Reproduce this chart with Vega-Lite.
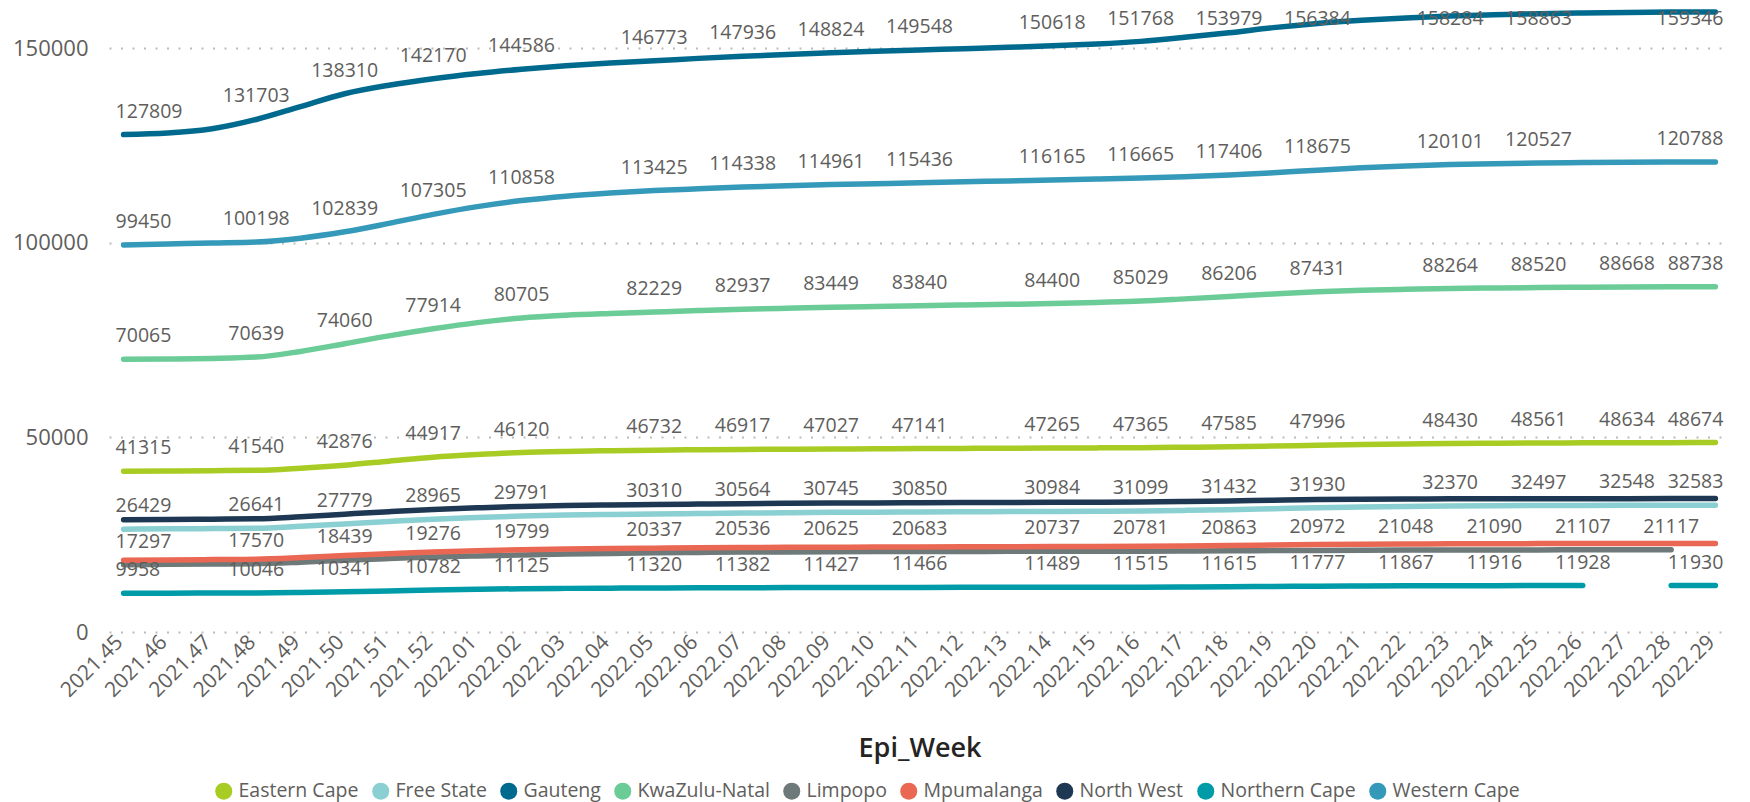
{
  "$schema": "https://vega.github.io/schema/vega-lite/v6.json",
  "width": 1621,
  "height": 632,
  "autosize": {"type": "none"},
  "padding": {"left": 109, "top": 0, "right": 20, "bottom": 170},
  "background": "white",
  "config": {
    "font": "Open Sans",
    "view": {"stroke": null},
    "axis": {"labelFont": "Open Sans", "titleFont": "Open Sans"}
  },
  "data": {"values": [
    {"Province":"Eastern Cape","Epi_Week":"2021.45","Cases":41315},{"Province":"Eastern Cape","Epi_Week":"2021.46","Cases":41380},{"Province":"Eastern Cape","Epi_Week":"2021.47","Cases":41450},{"Province":"Eastern Cape","Epi_Week":"2021.48","Cases":41540},{"Province":"Eastern Cape","Epi_Week":"2021.49","Cases":42100},{"Province":"Eastern Cape","Epi_Week":"2021.50","Cases":42876},{"Province":"Eastern Cape","Epi_Week":"2021.51","Cases":43900},{"Province":"Eastern Cape","Epi_Week":"2021.52","Cases":44917},{"Province":"Eastern Cape","Epi_Week":"2022.01","Cases":45600},{"Province":"Eastern Cape","Epi_Week":"2022.02","Cases":46120},{"Province":"Eastern Cape","Epi_Week":"2022.03","Cases":46400},{"Province":"Eastern Cape","Epi_Week":"2022.04","Cases":46580},{"Province":"Eastern Cape","Epi_Week":"2022.05","Cases":46732},{"Province":"Eastern Cape","Epi_Week":"2022.06","Cases":46830},{"Province":"Eastern Cape","Epi_Week":"2022.07","Cases":46917},{"Province":"Eastern Cape","Epi_Week":"2022.08","Cases":46970},{"Province":"Eastern Cape","Epi_Week":"2022.09","Cases":47027},{"Province":"Eastern Cape","Epi_Week":"2022.10","Cases":47090},{"Province":"Eastern Cape","Epi_Week":"2022.11","Cases":47141},{"Province":"Eastern Cape","Epi_Week":"2022.12","Cases":47180},{"Province":"Eastern Cape","Epi_Week":"2022.13","Cases":47220},{"Province":"Eastern Cape","Epi_Week":"2022.14","Cases":47265},{"Province":"Eastern Cape","Epi_Week":"2022.15","Cases":47310},{"Province":"Eastern Cape","Epi_Week":"2022.16","Cases":47365},{"Province":"Eastern Cape","Epi_Week":"2022.17","Cases":47470},{"Province":"Eastern Cape","Epi_Week":"2022.18","Cases":47585},{"Province":"Eastern Cape","Epi_Week":"2022.19","Cases":47780},{"Province":"Eastern Cape","Epi_Week":"2022.20","Cases":47996},{"Province":"Eastern Cape","Epi_Week":"2022.21","Cases":48180},{"Province":"Eastern Cape","Epi_Week":"2022.22","Cases":48320},{"Province":"Eastern Cape","Epi_Week":"2022.23","Cases":48430},{"Province":"Eastern Cape","Epi_Week":"2022.24","Cases":48500},{"Province":"Eastern Cape","Epi_Week":"2022.25","Cases":48561},{"Province":"Eastern Cape","Epi_Week":"2022.26","Cases":48600},{"Province":"Eastern Cape","Epi_Week":"2022.27","Cases":48634},{"Province":"Eastern Cape","Epi_Week":"2022.28","Cases":48655},{"Province":"Eastern Cape","Epi_Week":"2022.29","Cases":48674},
    {"Province":"Free State","Epi_Week":"2021.45","Cases":26429},{"Province":"Free State","Epi_Week":"2021.46","Cases":26500},{"Province":"Free State","Epi_Week":"2021.47","Cases":26570},{"Province":"Free State","Epi_Week":"2021.48","Cases":26641},{"Province":"Free State","Epi_Week":"2021.49","Cases":27150},{"Province":"Free State","Epi_Week":"2021.50","Cases":27779},{"Province":"Free State","Epi_Week":"2021.51","Cases":28400},{"Province":"Free State","Epi_Week":"2021.52","Cases":28965},{"Province":"Free State","Epi_Week":"2022.01","Cases":29400},{"Province":"Free State","Epi_Week":"2022.02","Cases":29791},{"Province":"Free State","Epi_Week":"2022.03","Cases":30050},{"Province":"Free State","Epi_Week":"2022.04","Cases":30200},{"Province":"Free State","Epi_Week":"2022.05","Cases":30310},{"Province":"Free State","Epi_Week":"2022.06","Cases":30440},{"Province":"Free State","Epi_Week":"2022.07","Cases":30564},{"Province":"Free State","Epi_Week":"2022.08","Cases":30660},{"Province":"Free State","Epi_Week":"2022.09","Cases":30745},{"Province":"Free State","Epi_Week":"2022.10","Cases":30800},{"Province":"Free State","Epi_Week":"2022.11","Cases":30850},{"Province":"Free State","Epi_Week":"2022.12","Cases":30890},{"Province":"Free State","Epi_Week":"2022.13","Cases":30940},{"Province":"Free State","Epi_Week":"2022.14","Cases":30984},{"Province":"Free State","Epi_Week":"2022.15","Cases":31040},{"Province":"Free State","Epi_Week":"2022.16","Cases":31099},{"Province":"Free State","Epi_Week":"2022.17","Cases":31250},{"Province":"Free State","Epi_Week":"2022.18","Cases":31432},{"Province":"Free State","Epi_Week":"2022.19","Cases":31680},{"Province":"Free State","Epi_Week":"2022.20","Cases":31930},{"Province":"Free State","Epi_Week":"2022.21","Cases":32130},{"Province":"Free State","Epi_Week":"2022.22","Cases":32270},{"Province":"Free State","Epi_Week":"2022.23","Cases":32370},{"Province":"Free State","Epi_Week":"2022.24","Cases":32440},{"Province":"Free State","Epi_Week":"2022.25","Cases":32497},{"Province":"Free State","Epi_Week":"2022.26","Cases":32525},{"Province":"Free State","Epi_Week":"2022.27","Cases":32548},{"Province":"Free State","Epi_Week":"2022.28","Cases":32565},{"Province":"Free State","Epi_Week":"2022.29","Cases":32583},
    {"Province":"Gauteng","Epi_Week":"2021.45","Cases":127809},{"Province":"Gauteng","Epi_Week":"2021.46","Cases":128200},{"Province":"Gauteng","Epi_Week":"2021.47","Cases":129300},{"Province":"Gauteng","Epi_Week":"2021.48","Cases":131703},{"Province":"Gauteng","Epi_Week":"2021.49","Cases":135000},{"Province":"Gauteng","Epi_Week":"2021.50","Cases":138310},{"Province":"Gauteng","Epi_Week":"2021.51","Cases":140500},{"Province":"Gauteng","Epi_Week":"2021.52","Cases":142170},{"Province":"Gauteng","Epi_Week":"2022.01","Cases":143500},{"Province":"Gauteng","Epi_Week":"2022.02","Cases":144586},{"Province":"Gauteng","Epi_Week":"2022.03","Cases":145500},{"Province":"Gauteng","Epi_Week":"2022.04","Cases":146200},{"Province":"Gauteng","Epi_Week":"2022.05","Cases":146773},{"Province":"Gauteng","Epi_Week":"2022.06","Cases":147400},{"Province":"Gauteng","Epi_Week":"2022.07","Cases":147936},{"Province":"Gauteng","Epi_Week":"2022.08","Cases":148400},{"Province":"Gauteng","Epi_Week":"2022.09","Cases":148824},{"Province":"Gauteng","Epi_Week":"2022.10","Cases":149200},{"Province":"Gauteng","Epi_Week":"2022.11","Cases":149548},{"Province":"Gauteng","Epi_Week":"2022.12","Cases":149900},{"Province":"Gauteng","Epi_Week":"2022.13","Cases":150250},{"Province":"Gauteng","Epi_Week":"2022.14","Cases":150618},{"Province":"Gauteng","Epi_Week":"2022.15","Cases":151100},{"Province":"Gauteng","Epi_Week":"2022.16","Cases":151768},{"Province":"Gauteng","Epi_Week":"2022.17","Cases":152800},{"Province":"Gauteng","Epi_Week":"2022.18","Cases":153979},{"Province":"Gauteng","Epi_Week":"2022.19","Cases":155300},{"Province":"Gauteng","Epi_Week":"2022.20","Cases":156384},{"Province":"Gauteng","Epi_Week":"2022.21","Cases":157200},{"Province":"Gauteng","Epi_Week":"2022.22","Cases":157800},{"Province":"Gauteng","Epi_Week":"2022.23","Cases":158284},{"Province":"Gauteng","Epi_Week":"2022.24","Cases":158600},{"Province":"Gauteng","Epi_Week":"2022.25","Cases":158863},{"Province":"Gauteng","Epi_Week":"2022.26","Cases":159050},{"Province":"Gauteng","Epi_Week":"2022.27","Cases":159200},{"Province":"Gauteng","Epi_Week":"2022.28","Cases":159290},{"Province":"Gauteng","Epi_Week":"2022.29","Cases":159346},
    {"Province":"KwaZulu-Natal","Epi_Week":"2021.45","Cases":70065},{"Province":"KwaZulu-Natal","Epi_Week":"2021.46","Cases":70150},{"Province":"KwaZulu-Natal","Epi_Week":"2021.47","Cases":70300},{"Province":"KwaZulu-Natal","Epi_Week":"2021.48","Cases":70639},{"Province":"KwaZulu-Natal","Epi_Week":"2021.49","Cases":72100},{"Province":"KwaZulu-Natal","Epi_Week":"2021.50","Cases":74060},{"Province":"KwaZulu-Natal","Epi_Week":"2021.51","Cases":76100},{"Province":"KwaZulu-Natal","Epi_Week":"2021.52","Cases":77914},{"Province":"KwaZulu-Natal","Epi_Week":"2022.01","Cases":79500},{"Province":"KwaZulu-Natal","Epi_Week":"2022.02","Cases":80705},{"Province":"KwaZulu-Natal","Epi_Week":"2022.03","Cases":81400},{"Province":"KwaZulu-Natal","Epi_Week":"2022.04","Cases":81850},{"Province":"KwaZulu-Natal","Epi_Week":"2022.05","Cases":82229},{"Province":"KwaZulu-Natal","Epi_Week":"2022.06","Cases":82600},{"Province":"KwaZulu-Natal","Epi_Week":"2022.07","Cases":82937},{"Province":"KwaZulu-Natal","Epi_Week":"2022.08","Cases":83200},{"Province":"KwaZulu-Natal","Epi_Week":"2022.09","Cases":83449},{"Province":"KwaZulu-Natal","Epi_Week":"2022.10","Cases":83650},{"Province":"KwaZulu-Natal","Epi_Week":"2022.11","Cases":83840},{"Province":"KwaZulu-Natal","Epi_Week":"2022.12","Cases":84020},{"Province":"KwaZulu-Natal","Epi_Week":"2022.13","Cases":84200},{"Province":"KwaZulu-Natal","Epi_Week":"2022.14","Cases":84400},{"Province":"KwaZulu-Natal","Epi_Week":"2022.15","Cases":84700},{"Province":"KwaZulu-Natal","Epi_Week":"2022.16","Cases":85029},{"Province":"KwaZulu-Natal","Epi_Week":"2022.17","Cases":85600},{"Province":"KwaZulu-Natal","Epi_Week":"2022.18","Cases":86206},{"Province":"KwaZulu-Natal","Epi_Week":"2022.19","Cases":86850},{"Province":"KwaZulu-Natal","Epi_Week":"2022.20","Cases":87431},{"Province":"KwaZulu-Natal","Epi_Week":"2022.21","Cases":87800},{"Province":"KwaZulu-Natal","Epi_Week":"2022.22","Cases":88050},{"Province":"KwaZulu-Natal","Epi_Week":"2022.23","Cases":88264},{"Province":"KwaZulu-Natal","Epi_Week":"2022.24","Cases":88400},{"Province":"KwaZulu-Natal","Epi_Week":"2022.25","Cases":88520},{"Province":"KwaZulu-Natal","Epi_Week":"2022.26","Cases":88600},{"Province":"KwaZulu-Natal","Epi_Week":"2022.27","Cases":88668},{"Province":"KwaZulu-Natal","Epi_Week":"2022.28","Cases":88710},{"Province":"KwaZulu-Natal","Epi_Week":"2022.29","Cases":88738},
    {"Province":"Limpopo","Epi_Week":"2021.45","Cases":17297},{"Province":"Limpopo","Epi_Week":"2021.46","Cases":17380},{"Province":"Limpopo","Epi_Week":"2021.47","Cases":17470},{"Province":"Limpopo","Epi_Week":"2021.48","Cases":17570},{"Province":"Limpopo","Epi_Week":"2021.49","Cases":17950},{"Province":"Limpopo","Epi_Week":"2021.50","Cases":18439},{"Province":"Limpopo","Epi_Week":"2021.51","Cases":18870},{"Province":"Limpopo","Epi_Week":"2021.52","Cases":19276},{"Province":"Limpopo","Epi_Week":"2022.01","Cases":19560},{"Province":"Limpopo","Epi_Week":"2022.02","Cases":19799},{"Province":"Limpopo","Epi_Week":"2022.03","Cases":20020},{"Province":"Limpopo","Epi_Week":"2022.04","Cases":20200},{"Province":"Limpopo","Epi_Week":"2022.05","Cases":20337},{"Province":"Limpopo","Epi_Week":"2022.06","Cases":20440},{"Province":"Limpopo","Epi_Week":"2022.07","Cases":20536},{"Province":"Limpopo","Epi_Week":"2022.08","Cases":20585},{"Province":"Limpopo","Epi_Week":"2022.09","Cases":20625},{"Province":"Limpopo","Epi_Week":"2022.10","Cases":20655},{"Province":"Limpopo","Epi_Week":"2022.11","Cases":20683},{"Province":"Limpopo","Epi_Week":"2022.12","Cases":20700},{"Province":"Limpopo","Epi_Week":"2022.13","Cases":20720},{"Province":"Limpopo","Epi_Week":"2022.14","Cases":20737},{"Province":"Limpopo","Epi_Week":"2022.15","Cases":20760},{"Province":"Limpopo","Epi_Week":"2022.16","Cases":20781},{"Province":"Limpopo","Epi_Week":"2022.17","Cases":20820},{"Province":"Limpopo","Epi_Week":"2022.18","Cases":20863},{"Province":"Limpopo","Epi_Week":"2022.19","Cases":20920},{"Province":"Limpopo","Epi_Week":"2022.20","Cases":20972},{"Province":"Limpopo","Epi_Week":"2022.21","Cases":21015},{"Province":"Limpopo","Epi_Week":"2022.22","Cases":21048},{"Province":"Limpopo","Epi_Week":"2022.23","Cases":21070},{"Province":"Limpopo","Epi_Week":"2022.24","Cases":21090},{"Province":"Limpopo","Epi_Week":"2022.25","Cases":21100},{"Province":"Limpopo","Epi_Week":"2022.26","Cases":21107},{"Province":"Limpopo","Epi_Week":"2022.27","Cases":21112},{"Province":"Limpopo","Epi_Week":"2022.28","Cases":21117},
    {"Province":"Mpumalanga","Epi_Week":"2021.45","Cases":18430},{"Province":"Mpumalanga","Epi_Week":"2021.46","Cases":18500},{"Province":"Mpumalanga","Epi_Week":"2021.47","Cases":18600},{"Province":"Mpumalanga","Epi_Week":"2021.48","Cases":18710},{"Province":"Mpumalanga","Epi_Week":"2021.49","Cases":19130},{"Province":"Mpumalanga","Epi_Week":"2021.50","Cases":19660},{"Province":"Mpumalanga","Epi_Week":"2021.51","Cases":20130},{"Province":"Mpumalanga","Epi_Week":"2021.52","Cases":20560},{"Province":"Mpumalanga","Epi_Week":"2022.01","Cases":20880},{"Province":"Mpumalanga","Epi_Week":"2022.02","Cases":21120},{"Province":"Mpumalanga","Epi_Week":"2022.03","Cases":21300},{"Province":"Mpumalanga","Epi_Week":"2022.04","Cases":21440},{"Province":"Mpumalanga","Epi_Week":"2022.05","Cases":21540},{"Province":"Mpumalanga","Epi_Week":"2022.06","Cases":21630},{"Province":"Mpumalanga","Epi_Week":"2022.07","Cases":21700},{"Province":"Mpumalanga","Epi_Week":"2022.08","Cases":21750},{"Province":"Mpumalanga","Epi_Week":"2022.09","Cases":21790},{"Province":"Mpumalanga","Epi_Week":"2022.10","Cases":21830},{"Province":"Mpumalanga","Epi_Week":"2022.11","Cases":21860},{"Province":"Mpumalanga","Epi_Week":"2022.12","Cases":21890},{"Province":"Mpumalanga","Epi_Week":"2022.13","Cases":21920},{"Province":"Mpumalanga","Epi_Week":"2022.14","Cases":21950},{"Province":"Mpumalanga","Epi_Week":"2022.15","Cases":21990},{"Province":"Mpumalanga","Epi_Week":"2022.16","Cases":22040},{"Province":"Mpumalanga","Epi_Week":"2022.17","Cases":22120},{"Province":"Mpumalanga","Epi_Week":"2022.18","Cases":22220},{"Province":"Mpumalanga","Epi_Week":"2022.19","Cases":22340},{"Province":"Mpumalanga","Epi_Week":"2022.20","Cases":22460},{"Province":"Mpumalanga","Epi_Week":"2022.21","Cases":22550},{"Province":"Mpumalanga","Epi_Week":"2022.22","Cases":22610},{"Province":"Mpumalanga","Epi_Week":"2022.23","Cases":22660},{"Province":"Mpumalanga","Epi_Week":"2022.24","Cases":22690},{"Province":"Mpumalanga","Epi_Week":"2022.25","Cases":22710},{"Province":"Mpumalanga","Epi_Week":"2022.26","Cases":22725},{"Province":"Mpumalanga","Epi_Week":"2022.27","Cases":22735},{"Province":"Mpumalanga","Epi_Week":"2022.28","Cases":22742},{"Province":"Mpumalanga","Epi_Week":"2022.29","Cases":22748},
    {"Province":"North West","Epi_Week":"2021.45","Cases":28850},{"Province":"North West","Epi_Week":"2021.46","Cases":28920},{"Province":"North West","Epi_Week":"2021.47","Cases":29000},{"Province":"North West","Epi_Week":"2021.48","Cases":29080},{"Province":"North West","Epi_Week":"2021.49","Cases":29620},{"Province":"North West","Epi_Week":"2021.50","Cases":30280},{"Province":"North West","Epi_Week":"2021.51","Cases":30920},{"Province":"North West","Epi_Week":"2021.52","Cases":31480},{"Province":"North West","Epi_Week":"2022.01","Cases":31900},{"Province":"North West","Epi_Week":"2022.02","Cases":32270},{"Province":"North West","Epi_Week":"2022.03","Cases":32520},{"Province":"North West","Epi_Week":"2022.04","Cases":32660},{"Province":"North West","Epi_Week":"2022.05","Cases":32760},{"Province":"North West","Epi_Week":"2022.06","Cases":32870},{"Province":"North West","Epi_Week":"2022.07","Cases":32980},{"Province":"North West","Epi_Week":"2022.08","Cases":33060},{"Province":"North West","Epi_Week":"2022.09","Cases":33130},{"Province":"North West","Epi_Week":"2022.10","Cases":33180},{"Province":"North West","Epi_Week":"2022.11","Cases":33220},{"Province":"North West","Epi_Week":"2022.12","Cases":33250},{"Province":"North West","Epi_Week":"2022.13","Cases":33290},{"Province":"North West","Epi_Week":"2022.14","Cases":33320},{"Province":"North West","Epi_Week":"2022.15","Cases":33360},{"Province":"North West","Epi_Week":"2022.16","Cases":33410},{"Province":"North West","Epi_Week":"2022.17","Cases":33530},{"Province":"North West","Epi_Week":"2022.18","Cases":33680},{"Province":"North West","Epi_Week":"2022.19","Cases":33860},{"Province":"North West","Epi_Week":"2022.20","Cases":34020},{"Province":"North West","Epi_Week":"2022.21","Cases":34110},{"Province":"North West","Epi_Week":"2022.22","Cases":34170},{"Province":"North West","Epi_Week":"2022.23","Cases":34210},{"Province":"North West","Epi_Week":"2022.24","Cases":34235},{"Province":"North West","Epi_Week":"2022.25","Cases":34250},{"Province":"North West","Epi_Week":"2022.26","Cases":34260},{"Province":"North West","Epi_Week":"2022.27","Cases":34268},{"Province":"North West","Epi_Week":"2022.28","Cases":34274},{"Province":"North West","Epi_Week":"2022.29","Cases":34280},
    {"Province":"Northern Cape","Epi_Week":"2021.45","Cases":9958},{"Province":"Northern Cape","Epi_Week":"2021.46","Cases":9985},{"Province":"Northern Cape","Epi_Week":"2021.47","Cases":10015},{"Province":"Northern Cape","Epi_Week":"2021.48","Cases":10046},{"Province":"Northern Cape","Epi_Week":"2021.49","Cases":10170},{"Province":"Northern Cape","Epi_Week":"2021.50","Cases":10341},{"Province":"Northern Cape","Epi_Week":"2021.51","Cases":10560},{"Province":"Northern Cape","Epi_Week":"2021.52","Cases":10782},{"Province":"Northern Cape","Epi_Week":"2022.01","Cases":10970},{"Province":"Northern Cape","Epi_Week":"2022.02","Cases":11125},{"Province":"Northern Cape","Epi_Week":"2022.03","Cases":11210},{"Province":"Northern Cape","Epi_Week":"2022.04","Cases":11270},{"Province":"Northern Cape","Epi_Week":"2022.05","Cases":11320},{"Province":"Northern Cape","Epi_Week":"2022.06","Cases":11350},{"Province":"Northern Cape","Epi_Week":"2022.07","Cases":11382},{"Province":"Northern Cape","Epi_Week":"2022.08","Cases":11405},{"Province":"Northern Cape","Epi_Week":"2022.09","Cases":11427},{"Province":"Northern Cape","Epi_Week":"2022.10","Cases":11447},{"Province":"Northern Cape","Epi_Week":"2022.11","Cases":11466},{"Province":"Northern Cape","Epi_Week":"2022.12","Cases":11474},{"Province":"Northern Cape","Epi_Week":"2022.13","Cases":11481},{"Province":"Northern Cape","Epi_Week":"2022.14","Cases":11489},{"Province":"Northern Cape","Epi_Week":"2022.15","Cases":11500},{"Province":"Northern Cape","Epi_Week":"2022.16","Cases":11515},{"Province":"Northern Cape","Epi_Week":"2022.17","Cases":11560},{"Province":"Northern Cape","Epi_Week":"2022.18","Cases":11615},{"Province":"Northern Cape","Epi_Week":"2022.19","Cases":11700},{"Province":"Northern Cape","Epi_Week":"2022.20","Cases":11777},{"Province":"Northern Cape","Epi_Week":"2022.21","Cases":11825},{"Province":"Northern Cape","Epi_Week":"2022.22","Cases":11867},{"Province":"Northern Cape","Epi_Week":"2022.23","Cases":11895},{"Province":"Northern Cape","Epi_Week":"2022.24","Cases":11916},{"Province":"Northern Cape","Epi_Week":"2022.25","Cases":11923},{"Province":"Northern Cape","Epi_Week":"2022.26","Cases":11928},{"Province":"Northern Cape","Epi_Week":"2022.27","Cases":null},{"Province":"Northern Cape","Epi_Week":"2022.28","Cases":11929},{"Province":"Northern Cape","Epi_Week":"2022.29","Cases":11930},
    {"Province":"Western Cape","Epi_Week":"2021.45","Cases":99450},{"Province":"Western Cape","Epi_Week":"2021.46","Cases":99700},{"Province":"Western Cape","Epi_Week":"2021.47","Cases":99950},{"Province":"Western Cape","Epi_Week":"2021.48","Cases":100198},{"Province":"Western Cape","Epi_Week":"2021.49","Cases":101200},{"Province":"Western Cape","Epi_Week":"2021.50","Cases":102839},{"Province":"Western Cape","Epi_Week":"2021.51","Cases":105000},{"Province":"Western Cape","Epi_Week":"2021.52","Cases":107305},{"Province":"Western Cape","Epi_Week":"2022.01","Cases":109300},{"Province":"Western Cape","Epi_Week":"2022.02","Cases":110858},{"Province":"Western Cape","Epi_Week":"2022.03","Cases":112000},{"Province":"Western Cape","Epi_Week":"2022.04","Cases":112800},{"Province":"Western Cape","Epi_Week":"2022.05","Cases":113425},{"Province":"Western Cape","Epi_Week":"2022.06","Cases":113900},{"Province":"Western Cape","Epi_Week":"2022.07","Cases":114338},{"Province":"Western Cape","Epi_Week":"2022.08","Cases":114680},{"Province":"Western Cape","Epi_Week":"2022.09","Cases":114961},{"Province":"Western Cape","Epi_Week":"2022.10","Cases":115200},{"Province":"Western Cape","Epi_Week":"2022.11","Cases":115436},{"Province":"Western Cape","Epi_Week":"2022.12","Cases":115680},{"Province":"Western Cape","Epi_Week":"2022.13","Cases":115920},{"Province":"Western Cape","Epi_Week":"2022.14","Cases":116165},{"Province":"Western Cape","Epi_Week":"2022.15","Cases":116400},{"Province":"Western Cape","Epi_Week":"2022.16","Cases":116665},{"Province":"Western Cape","Epi_Week":"2022.17","Cases":117000},{"Province":"Western Cape","Epi_Week":"2022.18","Cases":117406},{"Province":"Western Cape","Epi_Week":"2022.19","Cases":118000},{"Province":"Western Cape","Epi_Week":"2022.20","Cases":118675},{"Province":"Western Cape","Epi_Week":"2022.21","Cases":119300},{"Province":"Western Cape","Epi_Week":"2022.22","Cases":119750},{"Province":"Western Cape","Epi_Week":"2022.23","Cases":120101},{"Province":"Western Cape","Epi_Week":"2022.24","Cases":120350},{"Province":"Western Cape","Epi_Week":"2022.25","Cases":120527},{"Province":"Western Cape","Epi_Week":"2022.26","Cases":120620},{"Province":"Western Cape","Epi_Week":"2022.27","Cases":120700},{"Province":"Western Cape","Epi_Week":"2022.28","Cases":120750},{"Province":"Western Cape","Epi_Week":"2022.29","Cases":120788}
  ]},
  "encoding": {
    "x": {
      "field": "Epi_Week", "type": "ordinal", "sort": null,
      "scale": {"type": "point", "padding": 0.33},
      "axis": {
        "title": "Epi_Week", "labelAngle": -45, "labelFontSize": 21, "labelColor": "#605E5C",
        "ticks": false, "tickSize": 0, "domain": false, "grid": false, "labelPadding": -1, "labelOffset": -12,
        "titleFontSize": 27, "titleFontWeight": 600, "titleColor": "#252423", "titlePadding": 35
      }
    }
  },
  "layer": [
    {
      "mark": {"type": "line", "interpolate": "monotone", "strokeWidth": 5.5, "strokeCap": "round", "strokeJoin": "round", "invalid": "break-paths-show-domains"},
      "encoding": {
        "y": {
          "field": "Cases", "type": "quantitative",
          "scale": {"domain": [0, 162400], "nice": false, "zero": true},
          "axis": {"values": [0, 50000, 100000, 150000], "format": "d", "title": null, "domain": false, "ticks": false, "tickSize": 0,
            "labelFontSize": 22, "labelColor": "#605E5C", "labelPadding": 21,
            "gridColor": "#BDBBB9", "gridDash": [2, 9.5], "gridWidth": 2}
        },
        "color": {
          "field": "Province", "type": "nominal",
          "scale": {
            "domain": ["Eastern Cape", "Free State", "Gauteng", "KwaZulu-Natal", "Limpopo", "Mpumalanga", "North West", "Northern Cape", "Western Cape"],
            "range": ["#A9CC24", "#8ACFD1", "#006A8E", "#6BCC98", "#6E7A7A", "#EA6853", "#1E3853", "#009BA8", "#3599B9"]
          },
          "legend": {
            "title": null, "orient": "none", "legendX": 105, "legendY": 781, "direction": "horizontal",
            "symbolType": "circle", "symbolSize": 289, "symbolStrokeWidth": 0,
            "labelFontSize": 19.5, "labelColor": "#605E5C", "labelFont": "Open Sans", "labelOffset": 5, "columnPadding": 12,
            "encode": {"symbols": {"update": {"fill": {"scale": "color", "field": "value"}, "fillOpacity": {"value": 1}, "strokeWidth": {"value": 0}}}}
          }
        }
      }
    },
    {
      "transform": [
        {"filter": "datum.Cases != null"},
        {"filter": "(indexof(['2021.45','2021.48','2021.50','2021.52','2022.02','2022.05','2022.07','2022.09','2022.11','2022.14','2022.16','2022.18','2022.20'], datum.Epi_Week) >= 0 && datum.Province != 'North West' && datum.Province != 'Mpumalanga') || (indexof(['Gauteng','Western Cape','KwaZulu-Natal','Eastern Cape','Free State'], datum.Province) >= 0 && indexof(['2022.23','2022.25','2022.29'], datum.Epi_Week) >= 0) || (indexof(['KwaZulu-Natal','Eastern Cape','Free State'], datum.Province) >= 0 && datum.Epi_Week == '2022.27') || (indexof(['Limpopo','Northern Cape'], datum.Province) >= 0 && indexof(['2022.22','2022.24','2022.26'], datum.Epi_Week) >= 0) || (datum.Province == 'Limpopo' && datum.Epi_Week == '2022.28') || (datum.Province == 'Northern Cape' && datum.Epi_Week == '2022.29')"}
      ],
      "layer": [
        {
          "transform": [{"filter": "datum.Epi_Week != '2021.45' && datum.Epi_Week != '2022.29'"}],
          "mark": {"type": "text", "align": "center", "baseline": "middle", "dy": 19, "fontSize": 19.5, "fill": "#605E5C", "font": "Open Sans"}
        },
        {
          "transform": [{"filter": "datum.Epi_Week == '2021.45'"}],
          "mark": {"type": "text", "align": "left", "baseline": "middle", "dy": 19, "dx": -8, "fontSize": 19.5, "fill": "#605E5C", "font": "Open Sans"}
        },
        {
          "transform": [{"filter": "datum.Epi_Week == '2022.29'"}],
          "mark": {"type": "text", "align": "right", "baseline": "middle", "dy": 19, "dx": 8, "fontSize": 19.5, "fill": "#605E5C", "font": "Open Sans"}
        }
      ],
      "encoding": {
        "y": {"field": "Cases", "type": "quantitative", "scale": {"domain": [-10792, 151608], "nice": false, "zero": false, "clamp": true}, "axis": null},
        "text": {"field": "Cases", "type": "quantitative", "format": "d"}
      }
    }
  ],
  "resolve": {"scale": {"y": "independent"}}
}
